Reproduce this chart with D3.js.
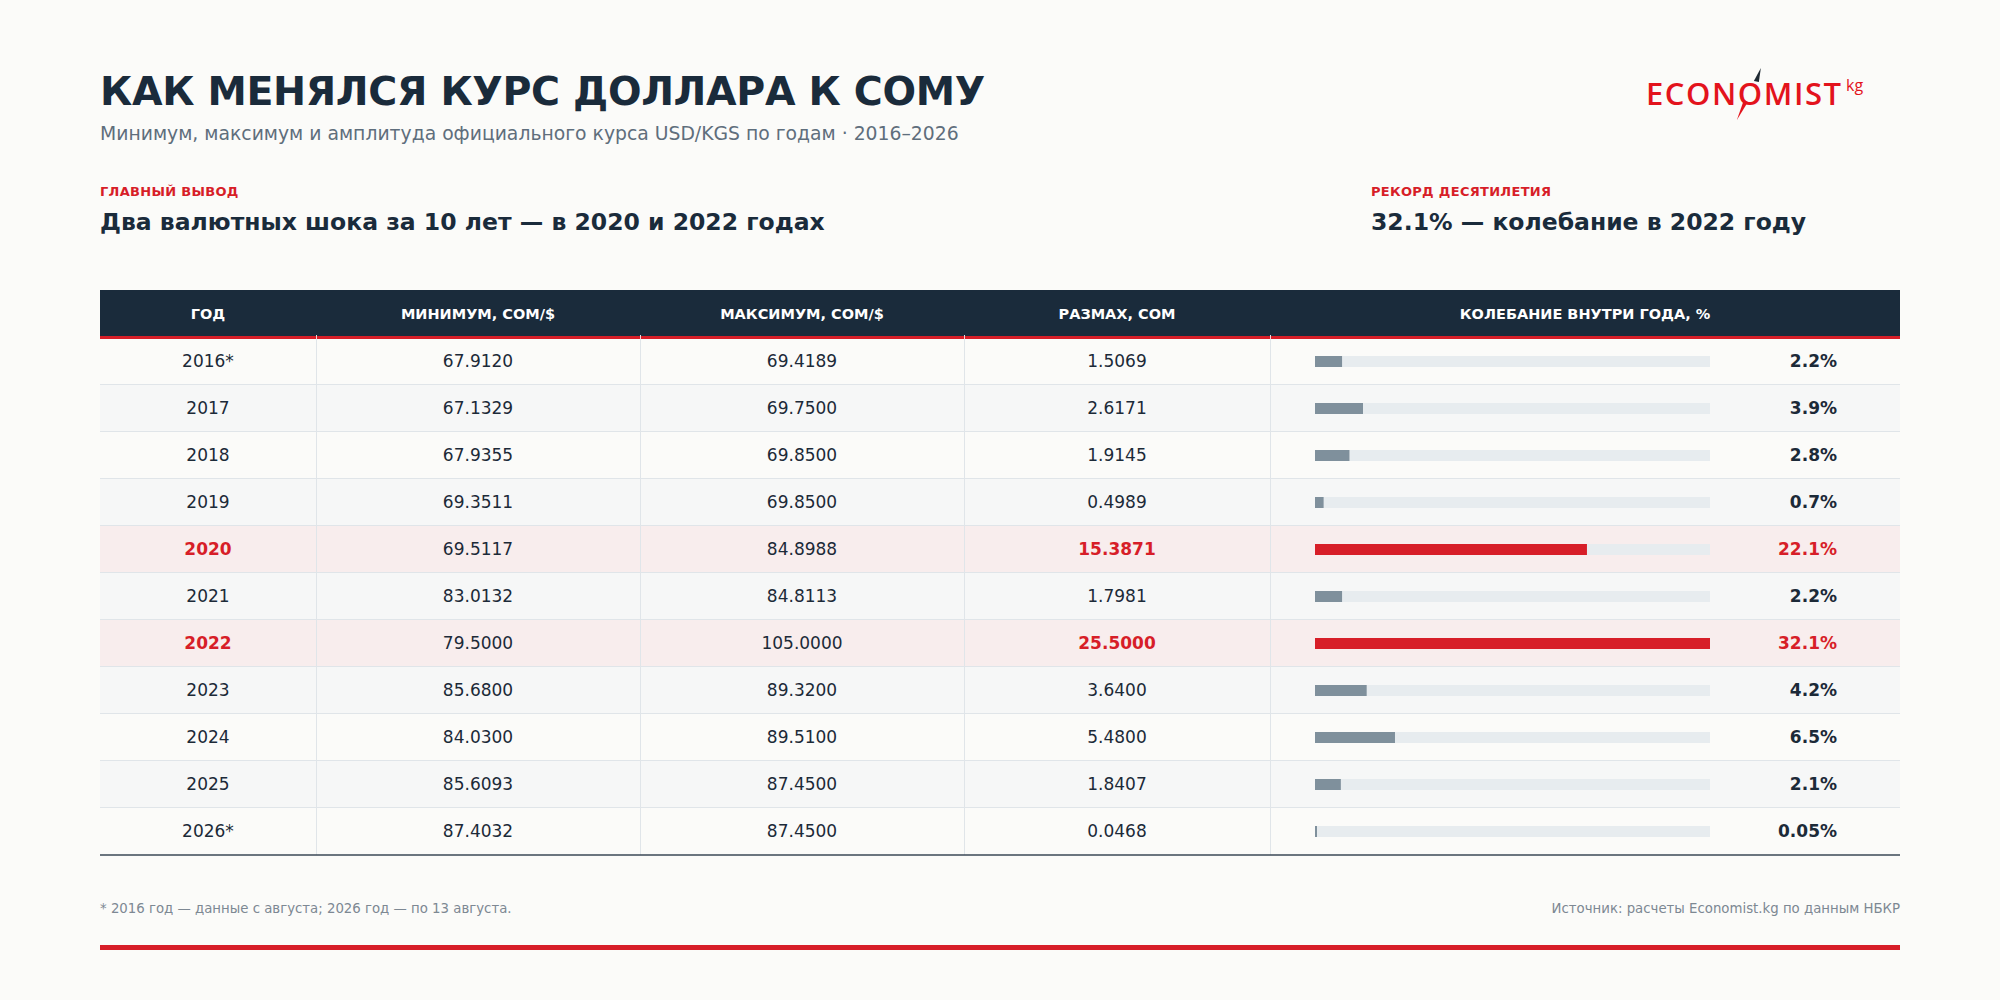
<!DOCTYPE html>
<html>
<head>
<meta charset="utf-8">
<script src="https://cdn.jsdelivr.net/npm/d3@7"></script>
<style>
  html, body { margin: 0; padding: 0; background: #fbfbf9; }
  svg { display: block; font-family: "DejaVu Sans", sans-serif; }
</style>
</head>
<body>
<div class="chart"></div>
<script>
// Table data
var years = ["2016*", "2017", "2018", "2019", "2020", "2021", "2022", "2023", "2024", "2025", "2026*"];
var minRate = [67.9120, 67.1329, 67.9355, 69.3511, 69.5117, 83.0132, 79.5000, 85.6800, 84.0300, 85.6093, 87.4032];
var maxRate = [69.4189, 69.7500, 69.8500, 69.8500, 84.8988, 84.8113, 105.0000, 89.3200, 89.5100, 87.4500, 87.4500];
var rangeRate = [1.5069, 2.6171, 1.9145, 0.4989, 15.3871, 1.7981, 25.5000, 3.6400, 5.4800, 1.8407, 0.0468];
var swingPct = [2.2, 3.9, 2.8, 0.7, 22.1, 2.2, 32.1, 4.2, 6.5, 2.1, 0.05];
var shockYears = ["2020", "2022"];
var headers = ["ГОД", "МИНИМУМ, СОМ/$", "МАКСИМУМ, СОМ/$", "РАЗМАХ, СОМ", "КОЛЕБАНИЕ ВНУТРИ ГОДА, %"];

var svgWidth = 2000;
var svgHeight = 1000;

var navy = "#1a2b3b";
var red = "#d71e28";
var ink = "#1c2a38";

var svg = d3.select(".chart")
  .append("svg")
  .attr("width", svgWidth)
  .attr("height", svgHeight);

svg.append("rect")
  .attr("width", svgWidth)
  .attr("height", svgHeight)
  .attr("fill", "#fbfbf9");

// Titles
svg.append("text")
  .attr("x", 100).attr("y", 105)
  .attr("font-size", 39.5).attr("font-weight", "bold")
  .attr("letter-spacing", -0.35)
  .attr("fill", navy)
  .text("КАК МЕНЯЛСЯ КУРС ДОЛЛАРА К СОМУ");

svg.append("text")
  .attr("x", 100).attr("y", 140)
  .attr("font-size", 18.8)
  .attr("fill", "#5f6e7c")
  .text("Минимум, максимум и амплитуда официального курса USD/KGS по годам · 2016–2026");

// Key findings
var notes = [
  { x: 100, label: "ГЛАВНЫЙ ВЫВОД", text: "Два валютных шока за 10 лет — в 2020 и 2022 годах" },
  { x: 1371, label: "РЕКОРД ДЕСЯТИЛЕТИЯ", text: "32.1% — колебание в 2022 году" }
];
var noteGroup = svg.selectAll(".note")
  .data(notes)
  .enter()
  .append("g")
  .attr("class", "note")
  .attr("transform", d => `translate(${d.x}, 0)`);
noteGroup.append("text")
  .attr("y", 196)
  .attr("font-size", 13).attr("font-weight", "bold")
  .attr("letter-spacing", 0.3)
  .attr("fill", red)
  .text(d => d.label);
noteGroup.append("text")
  .attr("y", 230)
  .attr("font-size", 23.5).attr("font-weight", "bold")
  .attr("fill", navy)
  .text(d => d.text);

// Logo
var logo = svg.append("g").attr("transform", "translate(1646, 105)");
var logoText = logo.append("text")
  .attr("font-family", "Open Sans, sans-serif")
  .attr("font-size", 31)
  .attr("font-weight", 600)
  .attr("fill", "#e3131c")
  .attr("textLength", 195)
  .text("ECONOMIST");
logo.append("text")
  .attr("x", 200).attr("y", -14)
  .attr("font-family", "Open Sans, sans-serif")
  .attr("font-size", 16)
  .attr("fill", "#e3131c")
  .text("kg");
// compass needle through the second "O" of ECONOMIST
var oStart = logoText.node().getSubStringLength(0, 4);
var oWidth = logoText.node().getSubStringLength(4, 1);
var ox = oStart + oWidth / 2;
logo.append("path")
  .attr("d", `M${ox + 17},-37 L${ox + 10},-24 L${ox + 15},-23 Z`)
  .attr("fill", "#1f2a33");
logo.append("path")
  .attr("d", `M${ox - 7},15 L${ox},-5 L${ox + 4},-3 Z`)
  .attr("fill", "#e3131c");

// Table geometry
var tableLeft = 100;
var tableRight = 1900;
var headTop = 290;
var headBottom = 337;
var colEdges = [100, 316, 640, 964, 1270, 1900];

var yScale = d3.scaleBand()
  .domain(years)
  .range([headBottom + 1, headBottom + 1 + years.length * 47]);

var barScale = d3.scaleLinear()
  .domain([0, d3.max(swingPct)])
  .range([1315, 1710]);

var rows = years.map((y, i) => ({
  year: y,
  min: minRate[i],
  max: maxRate[i],
  range: rangeRate[i],
  pct: swingPct[i],
  shock: shockYears.indexOf(y) >= 0,
  i: i
}));

// Header
svg.append("rect")
  .attr("x", tableLeft).attr("y", headTop)
  .attr("width", tableRight - tableLeft).attr("height", headBottom - headTop)
  .attr("fill", navy);

svg.selectAll(".head")
  .data(headers)
  .enter()
  .append("text")
  .attr("class", "head")
  .attr("x", (d, i) => (colEdges[i] + colEdges[i + 1]) / 2)
  .attr("y", (headTop + headBottom) / 2 + 5)
  .attr("text-anchor", "middle")
  .attr("font-size", 14.5).attr("font-weight", "bold")
  .attr("fill", "#ffffff")
  .text(d => d);

// Row backgrounds
var rowGroup = svg.selectAll(".row")
  .data(rows)
  .enter()
  .append("g")
  .attr("class", "row")
  .attr("transform", d => `translate(0, ${yScale(d.year)})`);

rowGroup.append("rect")
  .attr("x", tableLeft)
  .attr("width", tableRight - tableLeft)
  .attr("height", yScale.bandwidth())
  .attr("fill", d => d.shock ? "#f8eded" : (d.i % 2 ? "#f6f7f7" : "#fbfbf9"));

rowGroup.filter(d => d.i > 0)
  .append("line")
  .attr("x1", tableLeft).attr("x2", tableRight)
  .attr("y1", -0.5).attr("y2", -0.5)
  .attr("stroke", "#e0e5e9");

// Column dividers
svg.selectAll(".divider")
  .data(colEdges.slice(1, -1))
  .enter()
  .append("line")
  .attr("class", "divider")
  .attr("x1", d => d + 0.5).attr("x2", d => d + 0.5)
  .attr("y1", headBottom - 2).attr("y2", yScale.range()[1])
  .attr("stroke", "#e0e5e9");

// Red rule under header
svg.append("rect")
  .attr("x", tableLeft).attr("y", headBottom - 1)
  .attr("width", tableRight - tableLeft).attr("height", 3)
  .attr("fill", red);
svg.selectAll(".divtick")
  .data(colEdges.slice(1, -1))
  .enter()
  .append("rect")
  .attr("x", d => d).attr("y", headBottom - 1)
  .attr("width", 1).attr("height", 3)
  .attr("fill", "#f1d3d4");

// Cell texts
var midY = yScale.bandwidth() / 2 + 5.5;
function cell(col, fn, isBold) {
  rowGroup.append("text")
    .attr("x", (colEdges[col] + colEdges[col + 1]) / 2)
    .attr("y", midY)
    .attr("text-anchor", "middle")
    .attr("font-size", 17)
    .attr("font-weight", d => (isBold && d.shock) ? "bold" : "normal")
    .attr("fill", d => (isBold && d.shock) ? red : ink)
    .text(fn);
}
cell(0, d => d.year, true);
cell(1, d => d.min.toFixed(4), false);
cell(2, d => d.max.toFixed(4), false);
cell(3, d => d.range.toFixed(4), true);

// Bars
rowGroup.append("rect")
  .attr("x", barScale(0))
  .attr("y", yScale.bandwidth() / 2 - 5.5)
  .attr("width", barScale.range()[1] - barScale(0))
  .attr("height", 11)
  .attr("fill", "#e7ecef");

rowGroup.append("rect")
  .attr("x", barScale(0))
  .attr("y", yScale.bandwidth() / 2 - 5.5)
  .attr("width", d => Math.max(2, barScale(d.pct) - barScale(0)))
  .attr("height", 11)
  .attr("fill", d => d.shock ? red : "#7f909c");

rowGroup.append("text")
  .attr("x", 1837)
  .attr("y", midY)
  .attr("text-anchor", "end")
  .attr("font-size", 17).attr("font-weight", "bold")
  .attr("fill", d => d.shock ? red : ink)
  .text(d => (d.pct < 0.1 ? d.pct.toFixed(2) : d.pct.toFixed(1)) + "%");

// Bottom rule of the table
svg.append("line")
  .attr("x1", tableLeft).attr("x2", tableRight)
  .attr("y1", yScale.range()[1]).attr("y2", yScale.range()[1])
  .attr("stroke", "#3b4856").attr("stroke-width", 1.5);

// Footer
svg.append("text")
  .attr("x", 100).attr("y", 913)
  .attr("font-size", 13.3)
  .attr("fill", "#7d8893")
  .text("* 2016 год — данные с августа; 2026 год — по 13 августа.");

svg.append("text")
  .attr("x", 1900).attr("y", 913)
  .attr("text-anchor", "end")
  .attr("font-size", 13.3)
  .attr("fill", "#7d8893")
  .text("Источник: расчеты Economist.kg по данным НБКР");

svg.append("rect")
  .attr("x", 100).attr("y", 945)
  .attr("width", 1800).attr("height", 5)
  .attr("fill", red);
</script>
</body>
</html>
